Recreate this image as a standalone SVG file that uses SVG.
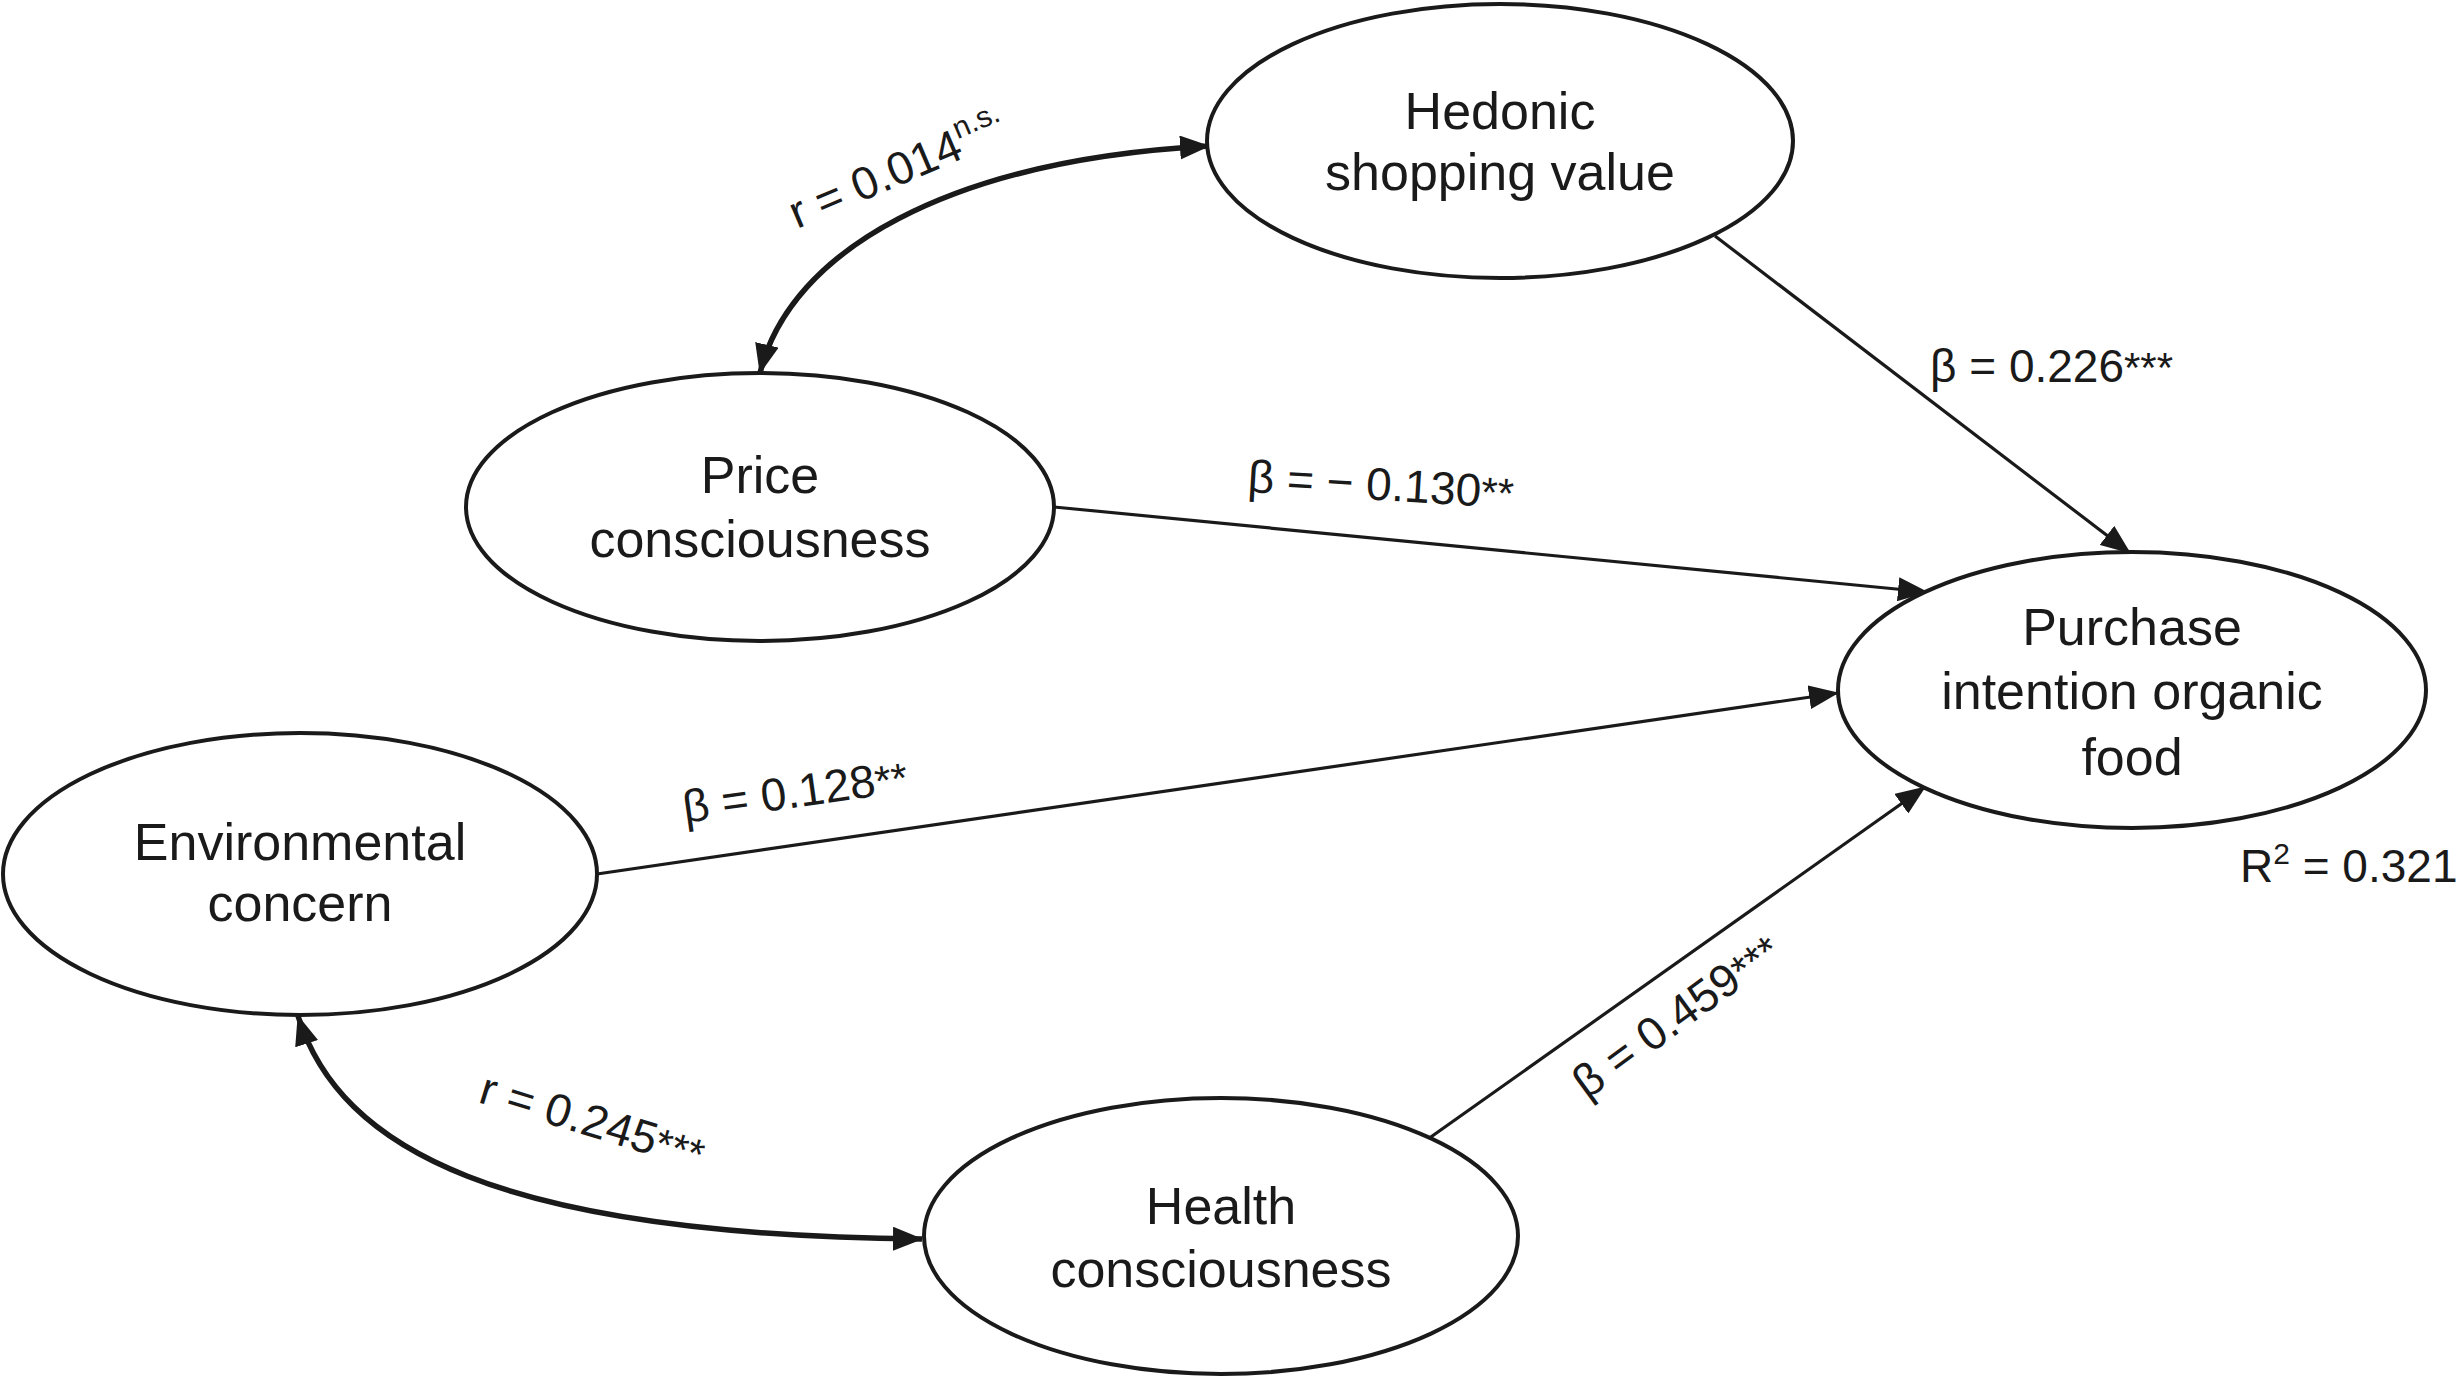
<svg xmlns="http://www.w3.org/2000/svg" width="2460" height="1381" viewBox="0 0 2460 1381">
<defs>
<style>
.node{fill:#fff;stroke:#1a1a1a;stroke-width:4}
.nt{font-family:"Liberation Sans",Arial,sans-serif;font-size:52px;fill:#1a1a1a;text-anchor:middle}
.lb{font-family:"Liberation Sans",Arial,sans-serif;font-size:46px;fill:#1a1a1a}
.ast{font-size:42px}
.sup{font-size:30px}
.ln{fill:none;stroke:#1a1a1a;stroke-width:3.2}
.cv{fill:none;stroke:#1a1a1a;stroke-width:5.5}
</style>
<marker id="arr" viewBox="0 0 30 24" refX="29" refY="12" markerWidth="30" markerHeight="24" markerUnits="userSpaceOnUse" orient="auto-start-reverse">
<path d="M0,0 L30,12 L0,24 z" fill="#1a1a1a"/>
</marker>
</defs>
<rect width="2460" height="1381" fill="#fff"/>
<g id="connectors">
<path class="cv" d="M760 373 C790 250 950 160 1209 146" marker-start="url(#arr)" marker-end="url(#arr)"/>
<path class="cv" d="M298 1016 C340 1150 500 1235 922 1239" marker-start="url(#arr)" marker-end="url(#arr)"/>
<line class="ln" x1="1715" y1="236" x2="2130" y2="553" marker-end="url(#arr)"/>
<line class="ln" x1="1054" y1="507" x2="1927" y2="592" marker-end="url(#arr)"/>
<line class="ln" x1="597" y1="874" x2="1838" y2="693" marker-end="url(#arr)"/>
<line class="ln" x1="1428" y1="1139" x2="1925" y2="787" marker-end="url(#arr)"/>
</g>
<g id="labels">
<text class="lb" transform="translate(797 229) rotate(-23)">r = 0.014<tspan class="sup" dy="-20">n.s.</tspan></text>
<text class="lb" x="1930" y="382">β = 0.226<tspan class="ast">***</tspan></text>
<text class="lb" transform="translate(1247 492) rotate(3.5)">β = − 0.130<tspan class="ast">**</tspan></text>
<text class="lb" transform="translate(685 823) rotate(-8)">β = 0.128<tspan class="ast">**</tspan></text>
<text class="lb" transform="translate(477 1102) rotate(17)">r = 0.245<tspan class="ast">***</tspan></text>
<text class="lb" transform="translate(1587 1100) rotate(-36)">β = 0.459<tspan class="ast">***</tspan></text>
<text class="lb" x="2240" y="882">R<tspan class="sup" dy="-18">2</tspan><tspan dy="18"> = 0.321</tspan></text>
</g>
<g id="hedonic">
<ellipse class="node" cx="1500" cy="141" rx="293" ry="137"/>
<text class="nt" x="1500" y="129">Hedonic</text>
<text class="nt" x="1500" y="190">shopping value</text>
</g>
<g id="price">
<ellipse class="node" cx="760" cy="507" rx="294" ry="134"/>
<text class="nt" x="760" y="493">Price</text>
<text class="nt" x="760" y="557">consciousness</text>
</g>
<g id="purchase">
<ellipse class="node" cx="2132" cy="690" rx="294" ry="138"/>
<text class="nt" x="2132" y="645">Purchase</text>
<text class="nt" x="2132" y="709">intention organic</text>
<text class="nt" x="2132" y="775">food</text>
</g>
<g id="environmental">
<ellipse class="node" cx="300" cy="874" rx="297" ry="141"/>
<text class="nt" x="300" y="860">Environmental</text>
<text class="nt" x="300" y="921">concern</text>
</g>
<g id="health">
<ellipse class="node" cx="1221" cy="1236" rx="297" ry="138"/>
<text class="nt" x="1221" y="1224">Health</text>
<text class="nt" x="1221" y="1287">consciousness</text>
</g>
</svg>
